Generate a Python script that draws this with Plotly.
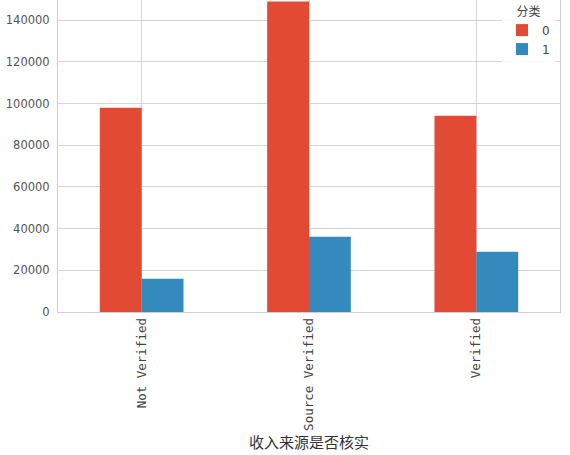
import plotly.graph_objects as go

categories = ["Not Verified", "Source Verified", "Verified"]
count_0 = [98000, 149000, 94200]
count_1 = [16000, 36100, 28900]
series_names = ["0", "1"]

fig = go.Figure()
fig.add_trace(go.Bar(x=categories, y=count_0, name=series_names[0],
                     marker=dict(color="#E24A33", line=dict(width=0))))
fig.add_trace(go.Bar(x=categories, y=count_1, name=series_names[1],
                     marker=dict(color="#348ABD", line=dict(width=0))))

fig.update_layout(
    width=570, height=455,
    margin=dict(l=58, r=10, t=0, b=143, autoexpand=False),
    paper_bgcolor="white", plot_bgcolor="white",
    barmode="group", bargap=0.5, bargroupgap=0,
    font=dict(family="DejaVu Sans", size=12, color="#555555"),
    legend=dict(
        x=0.99, y=1.0, xanchor="right", yanchor="top",
        bgcolor="rgba(255,255,255,0.9)", borderwidth=0,
        title=dict(text="分类", side="top center",
                   font=dict(family="Noto Sans CJK SC", size=12, color="#444444")),
        font=dict(family="DejaVu Sans", size=12, color="#444444"),
        itemwidth=30, tracegroupgap=2,
    ),
    showlegend=True,
)
fig.update_xaxes(
    type="category", tickangle=-90, automargin=False,
    tickfont=dict(family="DejaVu Sans Mono", size=12.5, color="#444444"),
    showgrid=True, gridcolor="#d5d5d5", gridwidth=1,
    showline=True, linecolor="#cfcfcf", mirror=True, ticks="",
    title=dict(text="收入来源是否核实", standoff=2,
               font=dict(family="Noto Sans CJK SC", size=15, color="#333333")),
)
fig.update_yaxes(
    range=[0, 149700], dtick=20000, tickformat="d", automargin=False,
    showgrid=True, gridcolor="#d5d5d5", gridwidth=1,
    showline=True, linecolor="#cfcfcf", mirror=True, ticks="",
    zeroline=False, ticklabelstandoff=5,
    tickfont=dict(family="DejaVu Sans", size=11.5, color="#555555"),
)

fig.write_html("out.html", config={"displayModeBar": False},
               post_script="document.body.style.margin='0';")
